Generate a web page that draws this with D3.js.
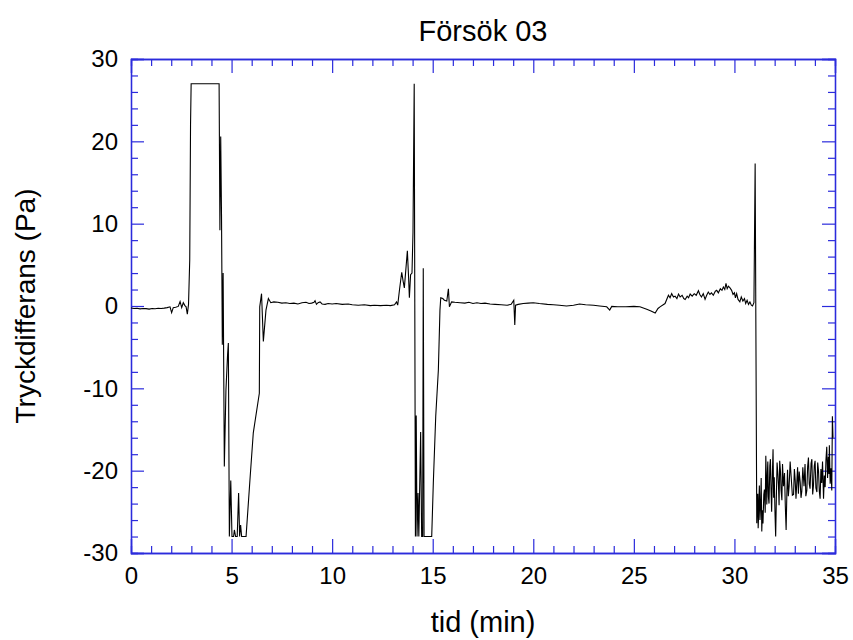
<!DOCTYPE html>
<html>
<head>
<meta charset="utf-8">
<script src="https://cdn.jsdelivr.net/npm/d3@7"></script>
<style>
  html, body { margin: 0; padding: 0; background: #fff; }
  svg { display: block; }
  text { font-family: "Liberation Sans", Arial, Helvetica, sans-serif; fill: #000; }
</style>
</head>
<body>
<script>
// ---- data ----
const chartTitle = "Försök 03";
const xLabel = "tid (min)";
const yLabel = "Tryckdifferans (Pa)";
const xMajorTicks = [0, 5, 10, 15, 20, 25, 30, 35];
const yMajorTicks = [-30, -20, -10, 0, 10, 20, 30];

const timeMin = [
  0.00,0.15,0.30,0.45,0.60,0.75,0.90,1.05,1.20,1.35,1.50,1.65,1.80,1.94,2.02,2.10,2.22,2.35,2.44,2.52,
  2.60,2.68,2.74,2.80,2.86,2.92,2.96,2.99,4.38,4.42,4.46,4.50,4.54,4.58,4.64,4.72,4.80,4.84,4.89,4.96,
  5.02,5.10,5.14,5.20,5.28,5.35,5.40,5.45,5.50,5.72,5.92,6.08,6.38,6.40,6.49,6.58,6.71,6.83,6.95,7.10,
  7.30,7.50,7.70,7.90,8.10,8.30,8.50,8.70,8.85,8.98,9.10,9.15,9.22,9.30,9.40,9.50,9.65,9.80,10.00,10.20,
  10.50,10.80,11.00,11.30,11.60,11.90,12.10,12.40,12.70,12.90,13.10,13.20,13.26,13.35,13.46,13.53,13.59,13.74,13.80,13.84,
  13.90,13.97,14.02,14.08,14.14,14.18,14.22,14.27,14.31,14.40,14.45,14.50,14.53,14.57,14.95,15.03,15.15,15.28,15.36,15.40,
  15.50,15.58,15.70,15.78,15.83,15.94,16.10,16.36,16.60,16.80,17.00,17.20,17.40,17.60,17.85,18.10,18.40,18.70,18.90,19.03,
  19.08,19.12,19.25,19.50,19.75,20.00,20.30,20.70,21.00,21.30,21.65,22.00,22.30,22.60,23.00,23.30,23.65,23.80,23.90,24.20,
  24.60,25.00,25.30,25.64,25.85,26.06,26.20,26.30,26.55,26.72,26.80,26.88,26.97,27.05,27.14,27.22,27.30,27.40,27.48,27.55,
  27.65,27.72,27.80,27.90,28.00,28.10,28.21,28.28,28.36,28.45,28.54,28.62,28.70,28.78,28.86,28.95,29.05,29.12,29.20,29.30,
  29.38,29.45,29.52,29.58,29.64,29.70,29.78,29.86,29.93,30.00,30.05,30.11,30.18,30.27,30.34,30.42,30.50,30.56,30.63,30.70,
  30.77,30.84,30.90,30.97,31.03,31.11,31.14,31.16,31.18,31.20,31.22,31.24,31.27,31.30,31.33,31.36,31.39,31.42,31.46,31.49,
  31.53,31.56,31.59,31.61,31.64,31.66,31.69,31.72,31.76,31.79,31.82,31.85,31.89,31.92,31.95,31.98,32.02,32.05,32.09,32.12,
  32.16,32.19,32.22,32.25,32.29,32.32,32.36,32.39,32.44,32.49,32.53,32.57,32.61,32.64,32.68,32.72,32.77,32.82,32.88,32.94,
  32.98,33.02,33.06,33.10,33.14,33.18,33.22,33.27,33.31,33.35,33.40,33.46,33.51,33.55,33.60,33.64,33.68,33.72,33.76,33.81,
  33.85,33.89,33.93,33.97,34.01,34.05,34.10,34.14,34.18,34.22,34.26,34.30,34.34,34.38,34.43,34.47,34.51,34.55,34.59,34.63,
  34.67,34.70,34.72,34.76,34.80,34.84,34.87,34.90
];

const pressurePa = [
  -0.25,-0.30,-0.28,-0.35,-0.30,-0.32,-0.38,-0.30,-0.33,-0.28,-0.30,-0.26,-0.20,-0.10,-0.80,-0.20,-0.15,-0.05,0.55,-0.20,
  0.40,0.05,-0.10,-1.00,0.20,5.6,22.0,27.0,27.0,9.2,20.6,11.0,-4.7,4.0,-19.5,-10.2,-6.0,-4.5,-28,-21.2,
  -28,-28,-27.2,-28,-28,-22.7,-28,-26.6,-28,-28,-20.9,-15.4,-10.6,-0.1,1.5,-4.3,-0.5,0.9,0.4,0.5,
  0.45,0.35,0.40,0.30,0.35,0.25,0.40,0.45,0.30,0.35,0.45,0.65,0.20,0.40,0.50,0.25,0.20,0.30,0.25,0.30,
  0.20,0.25,0.15,0.10,0.15,0.05,0.10,0.05,0.10,0.05,0.15,0.50,0.10,2.0,4.1,3.0,2.2,6.7,3.5,1.0,
  3.8,4.0,9.0,27.0,-28,-13.3,-28,-22.7,-28,-15.3,-28,-28,4.6,-28,-28,-21.5,-13.4,-7.8,-0.5,1.0,
  0.9,0.7,0.6,2.1,-0.1,0.5,0.45,0.4,0.35,0.45,0.3,0.4,0.3,0.35,0.25,0.2,0.15,0.1,0.2,0.7,
  -2.3,0.1,0.2,0.3,0.35,0.4,0.3,0.2,0.15,0.1,0.0,0.1,0.25,0.15,0.1,0.0,-0.1,-0.5,-0.05,-0.1,
  -0.1,-0.05,-0.1,-0.4,-0.6,-0.85,-0.3,-0.1,0.3,1.3,1.0,1.5,1.1,1.2,0.9,1.45,1.1,1.3,0.9,0.8,
  1.2,1.0,1.45,1.2,1.5,1.3,1.86,1.4,1.1,1.5,0.8,1.3,1.7,1.4,1.6,1.3,1.8,1.9,1.6,2.1,
  1.9,2.3,2.0,2.75,2.1,2.4,2.2,1.9,1.4,1.6,1.0,1.5,0.8,0.5,1.1,0.6,0.9,0.3,0.7,0.2,
  0.5,0.1,0.0,0.4,17.3,-26.4,-23.6,-22.8,-27.0,-25.6,-23.4,-21.8,-26.0,-24.4,-20.9,-27.4,-24.8,-26.4,-22.9,-22.3,
  -25.1,-18.2,-21.4,-24.1,-20.2,-18.9,-23.2,-24.0,-19.4,-18.6,-22.3,-25.0,-20.1,-17.4,-23.3,-20.8,-25.4,-28.0,-22.6,-19.0,
  -20.4,-21.8,-24.2,-18.8,-20.1,-22.4,-23.6,-19.2,-21.9,-20.3,-24.3,-27.2,-22.4,-19.9,-23.1,-21.9,-18.9,-20.7,-23.0,-22.9,
  -19.8,-21.1,-23.4,-21.5,-19.6,-22.8,-20.1,-21.4,-23.3,-22.5,-19.6,-21.9,-19.2,-23.1,-22.4,-19.5,-18.4,-21.6,-22.2,-19.1,
  -18.6,-22.9,-21.8,-19.4,-18.8,-22.1,-22.6,-19.0,-20.0,-22.5,-23.4,-19.8,-21.5,-18.9,-23.4,-20.6,-22.0,-18.7,-17.1,-20.9,
  -18.3,-20.4,-16.9,-21.6,-19.7,-22.4,-13.4,-16.0
];

// ---- layout ----
const W = 853, H = 640;
const margin = { left: 131, right: 18, top: 59, bottom: 87 };
const axisColor = "#2b2bdc";

const svg = d3.select("body").append("svg").attr("width", W).attr("height", H);

const x = d3.scaleLinear().domain([0, 35]).range([margin.left, W - margin.right]);
const y = d3.scaleLinear().domain([-30, 30]).range([H - margin.bottom, margin.top]);

const xMinor = d3.range(0, 36, 1).filter(v => !xMajorTicks.includes(v));
const yMinor = d3.range(-30, 31, 2).filter(v => !yMajorTicks.includes(v));
const fmt = v => String(v); // plain hyphen-minus like the reference

function styleAxis(g) {
  g.selectAll("path.domain").attr("stroke", axisColor).attr("stroke-width", 1.3);
  g.selectAll(".tick line").attr("stroke", axisColor).attr("stroke-width", 1.2);
  g.selectAll(".tick text").style("font-size", "24px").attr("fill", "#000");
}

const y0 = H - margin.bottom, y1 = margin.top, x0 = margin.left, x1 = W - margin.right;

// bottom
svg.append("g").attr("transform", `translate(0,${y0})`)
  .call(d3.axisBottom(x).tickValues(xMajorTicks).tickSize(-14).tickPadding(14).tickFormat(fmt))
  .call(styleAxis);
svg.append("g").attr("transform", `translate(0,${y0})`)
  .call(d3.axisBottom(x).tickValues(xMinor).tickSize(-7).tickFormat(""))
  .call(styleAxis);
// top
svg.append("g").attr("transform", `translate(0,${y1})`)
  .call(d3.axisTop(x).tickValues(xMajorTicks).tickSize(-14).tickFormat(""))
  .call(styleAxis);
svg.append("g").attr("transform", `translate(0,${y1})`)
  .call(d3.axisTop(x).tickValues(xMinor).tickSize(-7).tickFormat(""))
  .call(styleAxis);
// left
svg.append("g").attr("transform", `translate(${x0},0)`)
  .call(d3.axisLeft(y).tickValues(yMajorTicks).tickSize(-13).tickPadding(13).tickFormat(fmt))
  .call(styleAxis);
svg.append("g").attr("transform", `translate(${x0},0)`)
  .call(d3.axisLeft(y).tickValues(yMinor).tickSize(-7).tickFormat(""))
  .call(styleAxis);
// right
svg.append("g").attr("transform", `translate(${x1},0)`)
  .call(d3.axisRight(y).tickValues(yMajorTicks).tickSize(-13).tickFormat(""))
  .call(styleAxis);
svg.append("g").attr("transform", `translate(${x1},0)`)
  .call(d3.axisRight(y).tickValues(yMinor).tickSize(-7).tickFormat(""))
  .call(styleAxis);

// data line
const pts = timeMin.map((t, i) => [t, pressurePa[i]]);
svg.append("path")
  .datum(pts)
  .attr("fill", "none")
  .attr("stroke", "#000")
  .attr("stroke-width", 1.1)
  .attr("stroke-linejoin", "miter")
  .attr("d", d3.line().x(d => x(d[0])).y(d => y(d[1])));

// titles
svg.append("text").attr("x", (x0 + x1) / 2).attr("y", 41)
  .attr("text-anchor", "middle").style("font-size", "29px").text(chartTitle);
svg.append("text").attr("x", (x0 + x1) / 2).attr("y", 632)
  .attr("text-anchor", "middle").style("font-size", "29px").text(xLabel);
svg.append("text")
  .attr("transform", `translate(35,${(y0 + y1) / 2}) rotate(-90)`)
  .attr("text-anchor", "middle").style("font-size", "28px").text(yLabel);
</script>
</body>
</html>
